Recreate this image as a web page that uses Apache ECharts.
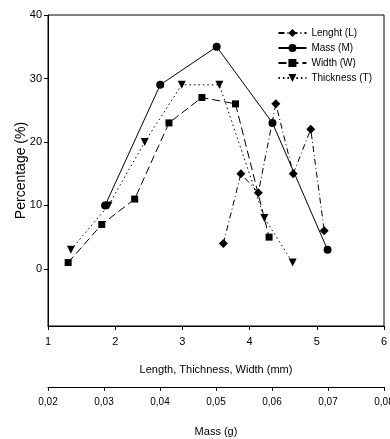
<!DOCTYPE html>
<html>
<head>
<meta charset="utf-8">
<script src="https://cdn.jsdelivr.net/npm/echarts@6/dist/echarts.min.js"></script>
<style>
  html, body { margin: 0; padding: 0; background: #fff; }
  #chart { width: 390px; height: 439px; }
</style>
</head>
<body>
<div id="chart"></div>
<script>
// values (x in mm, y in %)
const lengthX = [3.61, 3.87, 4.13, 4.39, 4.65, 4.91, 5.11];
const lengthY = [4, 15, 12, 26, 15, 22, 6];
const massX = [1.85, 2.67, 3.51, 4.34, 5.16];
const massY = [10, 29, 35, 23, 3];
const widthX = [1.30, 1.80, 2.29, 2.80, 3.29, 3.79, 4.29];
const widthY = [1, 7, 11, 23, 27, 26, 5];
const thickX = [1.34, 1.90, 2.44, 2.99, 3.55, 4.22, 4.64];
const thickY = [3, 10, 20, 29, 29, 8, 1];
const yTicks = [0, 10, 20, 30, 40];

const font = "Liberation Sans";
const pairs = (xs, ys) => xs.map((x, i) => [x, ys[i]]);

const chart = echarts.init(document.getElementById("chart"));

const baseLine = (name, xs, ys, symbol, size, type, rotate) => ({
  name: name,
  type: "line",
  data: pairs(xs, ys),
  symbol: symbol,
  symbolSize: size,
  symbolRotate: rotate || 0,
  itemStyle: { color: "#000" },
  lineStyle: { color: "#000", width: 1, type: type },
  animation: false,
});

chart.setOption({
  backgroundColor: "#fff",
  textStyle: { fontFamily: font, color: "#000" },
  grid: {
    left: 48, right: 6, top: 15, bottom: 113,
    outerBoundsMode: "none",
    containLabel: false,
    show: true, borderColor: "#000", borderWidth: 1,
  },
  legend: {
    orient: "vertical",
    right: 13,
    top: 23,
    itemGap: 5,
    itemWidth: 28,
    itemHeight: 10,
    textStyle: { fontFamily: font, fontSize: 10, color: "#000", letterSpacing: -1 },
    data: ["Lenght (L)", "Mass (M)", "Width (W)", "Thickness (T)"],
  },
  xAxis: [
    {
      type: "value",
      min: 1, max: 6, interval: 1,
      position: "bottom",
      splitLine: { show: false },
      axisLine: { onZero: false, lineStyle: { color: "#000" } },
      axisTick: { lineStyle: { color: "#000" }, length: 4 },
      axisLabel: { color: "#000", fontSize: 11, margin: 10 },
      name: "Length, Thichness, Width (mm)",
      nameLocation: "middle",
      nameGap: 38,
      nameMoveOverlap: false,
      nameTextStyle: { fontSize: 11, color: "#000", letterSpacing: -0.5 },
    },
    {
      type: "value",
      min: 0.02, max: 0.08, interval: 0.01,
      position: "bottom",
      offset: 61,
      splitLine: { show: false },
      axisLine: { onZero: false, lineStyle: { color: "#000" } },
      axisTick: { lineStyle: { color: "#000" }, length: 4 },
      axisLabel: {
        color: "#000", fontSize: 10, margin: 10, showMaxLabel: true,
        formatter: v => v.toFixed(2).replace(".", ","),
      },
      name: "Mass (g)",
      nameLocation: "middle",
      nameGap: 39,
      nameMoveOverlap: false,
      nameTextStyle: { fontSize: 11, color: "#000", letterSpacing: -0.5 },
    },
  ],
  yAxis: {
    type: "value",
    min: -9, max: 40,
    splitLine: { show: false },
    axisLine: { lineStyle: { color: "#000" } },
    axisTick: { lineStyle: { color: "#000" }, length: 4, customValues: yTicks },
    axisLabel: { color: "#000", fontSize: 11, margin: 6, customValues: yTicks },
    name: "Percentage (%)",
    nameLocation: "middle",
    nameGap: 20,
    nameMoveOverlap: false,
    nameTextStyle: { fontSize: 14, color: "#000" },
  },
  series: [
    baseLine("Lenght (L)", lengthX, lengthY, "diamond", 9, [6, 3, 1, 3]),
    baseLine("Mass (M)", massX, massY, "circle", 8, "solid"),
    baseLine("Width (W)", widthX, widthY, "rect", 7, [8, 4]),
    baseLine("Thickness (T)", thickX, thickY, "triangle", 8, [1.5, 3], 180),
  ],
});
</script>
</body>
</html>
